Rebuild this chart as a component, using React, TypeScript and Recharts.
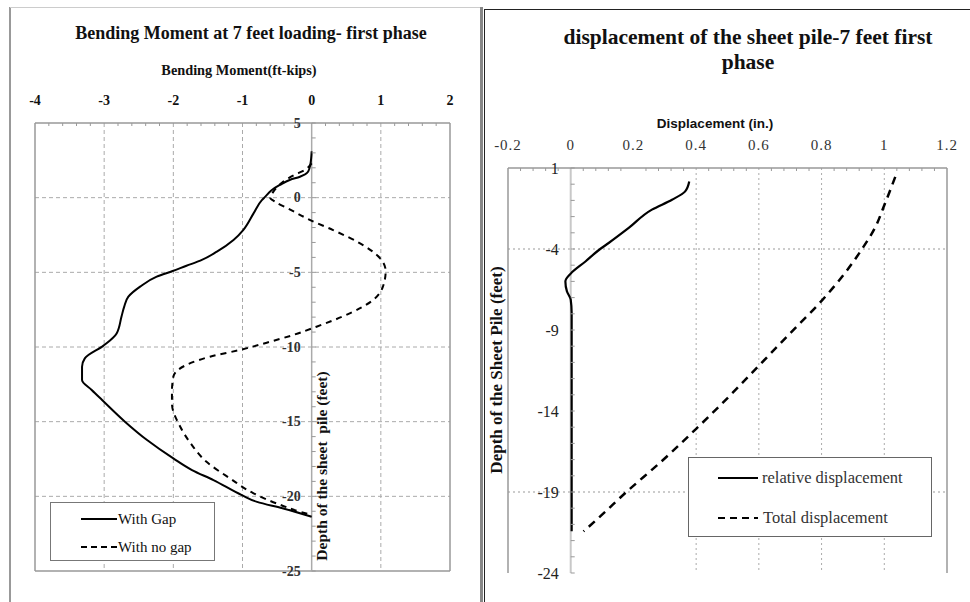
import React from 'react';
import { LineChart, Line, XAxis, YAxis, ReferenceLine, ReferenceDot } from 'recharts';

const SERIF = '"Liberation Serif", "Times New Roman", serif';
const SANS = '"Liberation Sans", Arial, sans-serif';

// ---- left chart: bending moment (ft-kips) vs depth (ft)
const momentTicks = [-4, -3, -2, -1, 0, 1, 2];
const leftDepthTicks = [5, 0, -5, -10, -15, -20, -25];
const momentGrid = [-3, -2, -1, 1];
const leftDepthGrid = [0, -5, -10, -15, -20];

const gapMoment = [0, -0.02, -0.05, -0.17, -0.31, -0.46, -0.58, -0.67, -0.72, -0.84, -0.99, -1.13, -1.37, -1.61, -1.81, -2.01, -2.24, -2.48, -2.65, -2.71, -2.75, -2.82, -3.01, -3.28, -3.32, -3.32, -3.18, -3.03, -2.7, -2.38, -2.0, -1.73, -1.42, -1.01, -0.79, -0.41, 0];
const gapDepth = [3.1, 2.2, 1.75, 1.4, 1.2, 0.85, 0.5, 0.07, -0.16, -1.05, -2.17, -2.84, -3.62, -4.22, -4.56, -4.91, -5.29, -5.96, -6.63, -7.3, -7.97, -9.09, -9.91, -10.76, -11.32, -12.21, -12.88, -13.55, -15.0, -16.23, -17.46, -18.24, -18.91, -19.92, -20.37, -20.81, -21.37];

const noGapMoment = [0, -0.1, -0.27, -0.43, -0.57, -0.6, -0.53, -0.31, -0.02, 0.31, 0.7, 0.99, 1.07, 1.03, 0.89, 0.55, 0.07, -0.27, -0.65, -1.04, -1.47, -1.81, -2.0, -2.02, -2.02, -1.9, -1.75, -1.52, -1.18, -0.84, -0.51, -0.17, 0];
const noGapDepth = [2.3, 1.86, 1.47, 1.0, 0.29, 0.0, -0.27, -0.8, -1.5, -2.17, -3.06, -4.06, -4.91, -5.96, -6.85, -7.75, -8.64, -9.2, -9.71, -10.2, -10.65, -11.2, -11.99, -12.99, -13.77, -15.34, -16.45, -17.69, -18.8, -19.8, -20.47, -21.03, -21.25];

// ---- right chart: displacement (in.) vs depth (ft)
const dispTicks = [-0.2, 0, 0.2, 0.4, 0.6, 0.8, 1, 1.2];
const rightDepthTicks = [1, -4, -9, -14, -19, -24];
const dispGrid = [0.4, 0.6, 0.8, 1];
const rightDepthGrid = [-4, -19];

const relDisp = [0.378, 0.365, 0.323, 0.259, 0.185, 0.121, 0.094, 0.047, 0.0, -0.017, -0.012, 0.0, 0.003, 0.003, 0.003];
const relDepth = [0.17, -0.44, -0.96, -1.57, -2.7, -3.63, -4.0, -4.77, -5.52, -6.0, -6.62, -7.13, -7.95, -12, -21.43];

const totalDisp = [1.035, 1.0, 0.97, 0.929, 0.87, 0.8, 0.7, 0.6, 0.5, 0.4, 0.29, 0.174, 0.1, 0.041];
const totalDepth = [0.45, -1.3, -2.7, -4.0, -5.6, -7.2, -9.2, -11.2, -13.2, -15.1, -17.1, -19.06, -20.4, -21.43];

const zip = (xs: number[], ys: number[]) => xs.map((x, i) => ({ x, y: ys[i] }));

const steps = (from: number, to: number, step: number) => {
  const out: number[] = [];
  const n = Math.round((to - from) / step);
  for (let i = 0; i <= n; i++) out.push(+(from + i * step).toFixed(4));
  return out;
};

const TICK_GAP = 18;

// top axis: labels for majors, small inward marks for minors
const makeTopTick = (majors: number[], textStyle: React.CSSProperties) => (props: any) => {
  const { x, y, payload } = props;
  const v = payload.value;
  if (majors.some((m) => Math.abs(m - v) < 1e-6)) {
    return (
      <text x={x} y={y} textAnchor="middle" style={textStyle}>
        {String(v)}
      </text>
    );
  }
  const ay = y + TICK_GAP;
  return <line x1={x} x2={x} y1={ay} y2={ay + 3} stroke="#999" />;
};

const sideTick = (v: number, majors: number[], gap: number, textStyle: React.CSSProperties) => (p: any) => (
  <g>
    <line x1={p.cx} x2={p.cx + 4} y1={p.cy} y2={p.cy} stroke="#999" />
    {majors.includes(v) && (
      <text x={p.cx - gap} y={p.cy} textAnchor="end" dominantBaseline="central" style={textStyle}>
        {String(v)}
      </text>
    )}
  </g>
);

const Txt = ({ cx, cy, children, style, rotate }: any) => (
  <div
    style={{
      position: 'absolute',
      left: cx,
      top: cy,
      transform: `translate(-50%, -50%)${rotate ? ' rotate(-90deg)' : ''}`,
      whiteSpace: 'nowrap',
      textAlign: 'center',
      ...style,
    }}
  >
    {children}
  </div>
);

const LegendRow = ({ top, dash, label, x0, x1, tx, font }: any) => (
  <div style={{ position: 'absolute', top: top - 10, left: 0, height: 20, width: '100%' }}>
    <svg width={x1 + 2} height={20} style={{ position: 'absolute', left: 0, top: 0 }}>
      <line x1={x0} x2={x1} y1={10} y2={10} stroke="#000" strokeWidth={2} strokeDasharray={dash} />
    </svg>
    <div style={{ position: 'absolute', left: tx, top: 0, lineHeight: '20px', ...font }}>{label}</div>
  </div>
);

const BendingChart = () => {
  const tickStyle = { fontFamily: SERIF, fontWeight: 700, fontSize: 14, fill: '#111' };
  const sideStyle = { fontFamily: SERIF, fontWeight: 700, fontSize: 14, fill: '#333' };
  return (
    <LineChart width={485} height={602} margin={{ top: 93, left: 35, right: 35, bottom: 31 }}>
      <XAxis
        xAxisId={0}
        type="number"
        dataKey="x"
        orientation="top"
        height={30}
        domain={[-4, 2]}
        ticks={steps(-4, 2, 0.2)}
        interval={0}
        tickLine={false}
        tickSize={0}
        tickMargin={TICK_GAP}
        axisLine={{ stroke: '#999', strokeWidth: 1.5 }}
        tick={makeTopTick(momentTicks, tickStyle)}
        allowDataOverflow
      />
      <YAxis yAxisId={0} type="number" hide domain={[-25, 5]} allowDataOverflow />
      {momentGrid.map((v) => (
        <ReferenceLine key={'gx' + v} x={v} stroke="#aaa" strokeDasharray="4 3" />
      ))}
      {leftDepthGrid.map((v) => (
        <ReferenceLine key={'gy' + v} y={v} stroke="#aaa" strokeDasharray="4 3" />
      ))}
      <ReferenceLine x={-4} stroke="#999" strokeWidth={1.5} />
      <ReferenceLine x={2} stroke="#999" strokeWidth={1.5} />
      <ReferenceLine y={-25} stroke="#999" strokeWidth={1.5} />
      <ReferenceLine x={0} stroke="#aaa" strokeWidth={1.5} />
      {steps(-25, 5, 1).map((v) => (
        <ReferenceDot key={'yt' + v} x={0} y={v} r={1} shape={sideTick(v, leftDepthTicks, 11, sideStyle)} />
      ))}
      <Line
        data={zip(gapMoment, gapDepth)}
        dataKey="y"
        type="monotoneY"
        stroke="#000"
        strokeWidth={2}
        dot={false}
        isAnimationActive={false}
      />
      <Line
        data={zip(noGapMoment, noGapDepth)}
        dataKey="y"
        type="monotoneY"
        stroke="#000"
        strokeWidth={2}
        strokeDasharray="6 5"
        dot={false}
        isAnimationActive={false}
      />
    </LineChart>
  );
};

const DisplacementChart = () => {
  const tickStyle = { fontFamily: SERIF, fontSize: 15, fill: '#333', letterSpacing: 1 };
  const sideStyle = { fontFamily: SERIF, fontSize: 16, fill: '#222' };
  return (
    <LineChart width={485} height={602} margin={{ top: 138, left: 23, right: 23, bottom: 29 }}>
      <XAxis
        xAxisId={0}
        type="number"
        dataKey="x"
        orientation="top"
        height={30}
        domain={[-0.2, 1.2]}
        ticks={steps(-0.2, 1.2, 0.04)}
        interval={0}
        tickLine={false}
        tickSize={0}
        tickMargin={TICK_GAP}
        axisLine={{ stroke: '#999', strokeWidth: 1.5 }}
        tick={makeTopTick(dispTicks, tickStyle)}
        allowDataOverflow
      />
      <YAxis yAxisId={0} type="number" hide domain={[-24, 1]} allowDataOverflow />
      {dispGrid.map((v) => (
        <ReferenceLine key={'gx' + v} x={v} stroke="#aaa" strokeDasharray="2 3" />
      ))}
      {rightDepthGrid.map((v) => (
        <ReferenceLine key={'gy' + v} y={v} stroke="#999" strokeDasharray="2 3" />
      ))}
      <ReferenceLine x={-0.2} stroke="#999" strokeWidth={1.5} />
      <ReferenceLine x={1.2} stroke="#999" strokeWidth={1.5} />
      <ReferenceLine x={0} stroke="#c8c8c8" strokeWidth={2} />
      {steps(-24, 1, 1).map((v) => (
        <ReferenceDot key={'yt' + v} x={0} y={v} r={1} shape={sideTick(v, rightDepthTicks, 12, sideStyle)} />
      ))}
      <Line
        data={zip(relDisp, relDepth)}
        dataKey="y"
        type="monotoneY"
        stroke="#000"
        strokeWidth={2.2}
        dot={false}
        isAnimationActive={false}
      />
      <Line
        data={zip(totalDisp, totalDepth)}
        dataKey="y"
        type="monotoneY"
        stroke="#000"
        strokeWidth={2.5}
        strokeDasharray="8 6"
        dot={false}
        isAnimationActive={false}
      />
    </LineChart>
  );
};

export default function App() {
  const boldSerif = { fontFamily: SERIF, fontWeight: 700, color: '#111' };
  const legendFontL = { fontFamily: SERIF, fontSize: 15, color: '#111' };
  const legendFontR = { fontFamily: SERIF, fontSize: 16.5, color: '#333' };
  return (
    <div style={{ position: 'absolute', left: 0, top: 0, width: 970, height: 602, background: '#fff', overflow: 'hidden' }}>
      {/* panel frames */}
      <div style={{ position: 'absolute', left: 9, top: 7, width: 2, height: 595, background: '#999' }} />
      <div style={{ position: 'absolute', left: 10, top: 7, width: 472, height: 1, background: '#ccc' }} />
      <div style={{ position: 'absolute', left: 480, top: 7, width: 3, height: 595, background: '#888' }} />
      <div style={{ position: 'absolute', left: 484, top: 9, width: 1, height: 593, background: '#222' }} />
      <div style={{ position: 'absolute', left: 484, top: 9, width: 486, height: 1, background: '#222' }} />

      <div style={{ position: 'absolute', left: 0, top: 0 }}>
        <BendingChart />
      </div>
      <div style={{ position: 'absolute', left: 485, top: 0 }}>
        <DisplacementChart />
      </div>

      {/* left texts */}
      <Txt cx={251} cy={33} style={{ ...boldSerif, fontSize: 18 }}>
        Bending Moment at 7 feet loading- first phase
      </Txt>
      <Txt cx={239} cy={70} style={{ ...boldSerif, fontSize: 14.3 }}>
        Bending Moment(ft-kips)
      </Txt>
      <Txt cx={322} cy={466} rotate style={{ ...boldSerif, fontSize: 15.5 }}>
        Depth of the sheet&nbsp; pile (feet)
      </Txt>
      <div style={{ position: 'absolute', left: 50, top: 502, width: 163, height: 57, border: '1.5px solid #777', background: '#fff' }}>
        <LegendRow top={16} label="With Gap" x0={30} x1={66} tx={67} font={legendFontL} />
        <LegendRow top={44} dash="6 4" label="With no gap" x0={30} x1={66} tx={67} font={legendFontL} />
      </div>

      {/* right texts */}
      <Txt cx={748} cy={50} style={{ ...boldSerif, fontSize: 21.5, lineHeight: '25px' }}>
        displacement of the sheet pile-7 feet first
        <br />
        phase
      </Txt>
      <Txt cx={715} cy={123} style={{ fontFamily: SANS, fontWeight: 700, fontSize: 13.5, color: '#111' }}>
        Displacement (in.)
      </Txt>
      <Txt cx={497} cy={370} rotate style={{ ...boldSerif, fontSize: 17 }}>
        Depth of the Sheet Pile (feet)
      </Txt>
      <div style={{ position: 'absolute', left: 688, top: 457, width: 242, height: 78, border: '1.5px solid #666', background: '#fff' }}>
        <LegendRow top={20} label="relative displacement" x0={29} x1={69} tx={73} font={legendFontR} />
        <LegendRow top={60} dash="7 5" label="Total displacement" x0={29} x1={69} tx={74} font={legendFontR} />
      </div>
    </div>
  );
}
